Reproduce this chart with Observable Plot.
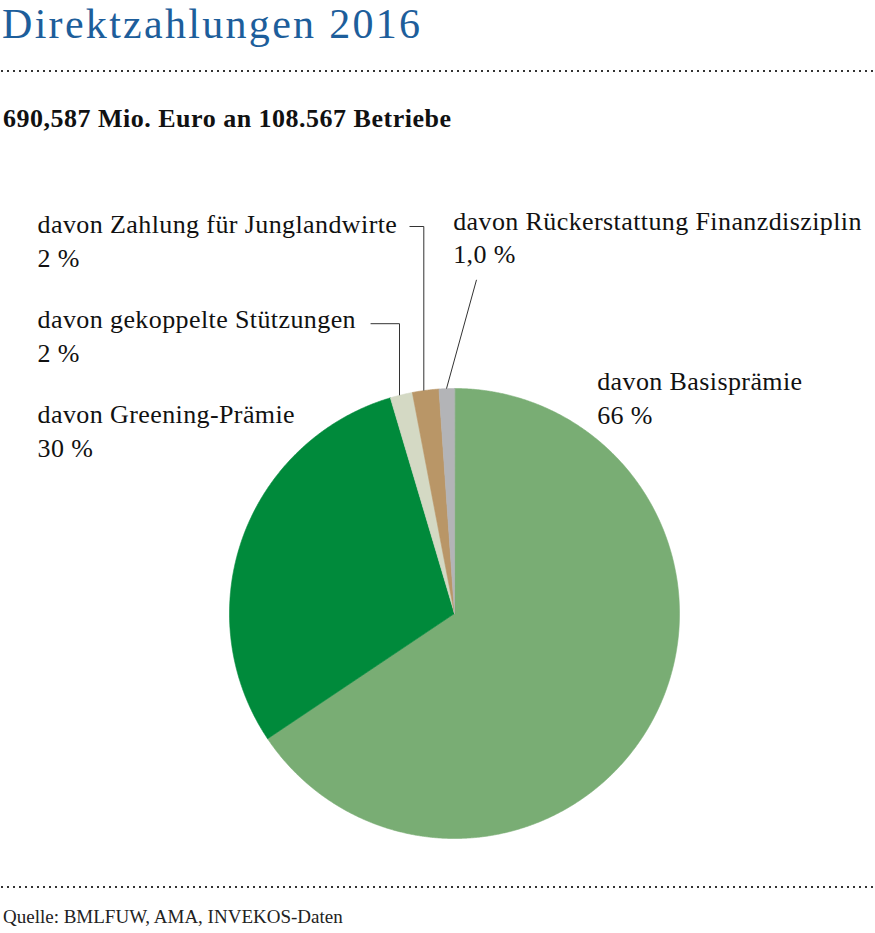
<!DOCTYPE html>
<html>
<head>
<meta charset="utf-8">
<script src="https://cdn.jsdelivr.net/npm/d3@7"></script>
<script src="https://cdn.jsdelivr.net/npm/@observablehq/plot@0.6"></script>
<style>
  html, body { margin: 0; padding: 0; background: #fff; }
  #page { position: relative; width: 875px; height: 933px; overflow: hidden; font-family: "Liberation Serif", serif; color: #111; }
  .abs { position: absolute; white-space: nowrap; line-height: 1; }
  #title { left: 2px; top: 3px; font-size: 42px; color: #1d5e9b; letter-spacing: 2.3px; }
  #subtitle { left: 3px; top: 106px; font-size: 26px; font-weight: bold; letter-spacing: 0.5px; }
  #source { left: 3px; top: 907px; font-size: 19px; color: #222; }
  .dots { position: absolute; left: 0; }
  #chart { position: absolute; left: 0; top: 150px; }
</style>
</head>
<body>
<div id="page">
  <div id="title" class="abs">Direktzahlungen 2016</div>
  <svg class="dots" style="top:69px" width="875" height="4"><line x1="1" x2="875" y1="2" y2="2" stroke="#333" stroke-width="2" stroke-dasharray="2 4"/></svg>
  <div id="subtitle" class="abs">690,587 Mio. Euro an 108.567 Betriebe</div>
  <div id="chart"></div>
  <svg class="dots" style="top:885px" width="875" height="4"><line x1="1" x2="875" y1="2" y2="2" stroke="#333" stroke-width="2" stroke-dasharray="2 4"/></svg>
  <div id="source" class="abs">Quelle: BMLFUW, AMA, INVEKOS-Daten</div>
</div>
<script>
// ---- data (clockwise from 12 o'clock) ----
const categories = [
  "davon Basisprämie",
  "davon Greening-Prämie",
  "davon gekoppelte Stützungen",
  "davon Zahlung für Junglandwirte",
  "davon Rückerstattung Finanzdisziplin"
];
const shares = [65.6, 29.8, 1.6, 1.9, 1.1];
const shareLabels = ["66 %", "30 %", "2 %", "2 %", "1,0 %"];

// ---- styles ----
const colors = ["#79ad74", "#008a3b", "#d4d9c4", "#b99667", "#b3b4b7"];

// ---- layout (pie units: radius = 1, origin = pie centre) ----
const W = 875, H = 720, CX = 454, CY = 463, R = 225;
const labelPos = {
  "davon Basisprämie": [0.634, 0.844],
  "davon Greening-Prämie": [-1.853, 0.695],
  "davon gekoppelte Stützungen": [-1.853, 1.117],
  "davon Zahlung für Junglandwirte": [-1.853, 1.542],
  "davon Rückerstattung Finanzdisziplin": [-0.006, 1.556]
};
const leaderPos = {
  "davon gekoppelte Stützungen": [[-0.373, 1.288], [-0.2444, 1.288], [-0.2444, null]],
  "davon Zahlung für Junglandwirte": [[-0.2, 1.72], [-0.1364, 1.72], [-0.1364, null]],
  "davon Rückerstattung Finanzdisziplin": [[0.0978, 1.483], [-0.0356, null]]
};

// ---- geometry ----
const total = d3.sum(shares);
const slicePts = [];
let acc = 0;
categories.forEach((name, i) => {
  const a0 = acc / total * 2 * Math.PI;
  acc += shares[i];
  const a1 = acc / total * 2 * Math.PI;
  slicePts.push({name, x: 0, y: 0});
  const n = Math.max(2, Math.ceil((a1 - a0) / (Math.PI / 720)));
  for (let k = 0; k <= n; k++) {
    const a = a0 + (a1 - a0) * k / n;
    slicePts.push({name, x: Math.sin(a), y: Math.cos(a)});
  }
});

const leaderPts = [];
for (const [name, pts] of Object.entries(leaderPos)) {
  for (const [u, v] of pts) {
    leaderPts.push({name, x: u, y: v == null ? Math.sqrt(1 - u * u) : v});
  }
}

const labels = categories.map((name, i) => ({
  name, text: name + "\n" + shareLabels[i], x: labelPos[name][0], y: labelPos[name][1]
}));

const chart = Plot.plot({
  width: W,
  height: H,
  margin: 0,
  x: {domain: [-CX / R, (W - CX) / R], axis: null},
  y: {domain: [-(H - CY) / R, CY / R], axis: null},
  color: {domain: categories, range: colors},
  style: {fontFamily: "Liberation Serif", background: "white", overflow: "visible"},
  marks: [
    Plot.line(slicePts, {x: "x", y: "y", z: "name", fill: "name", stroke: "name", strokeWidth: 0.6, curve: "linear-closed"}),
    Plot.line(leaderPts, {x: "x", y: "y", z: "name", stroke: "#333", strokeWidth: 1, strokeLinecap: "butt", strokeLinejoin: "miter"}),
    Plot.text(labels, {x: "x", y: "y", text: "text", textAnchor: "start", lineAnchor: "bottom", lineHeight: 1.296, fontSize: 26, fontFamily: "Liberation Serif", fill: "#111"})
  ]
});
chart.querySelectorAll("text").forEach(t => t.style.letterSpacing = "0.4px");
document.getElementById("chart").appendChild(chart);
</script>
</body>
</html>
